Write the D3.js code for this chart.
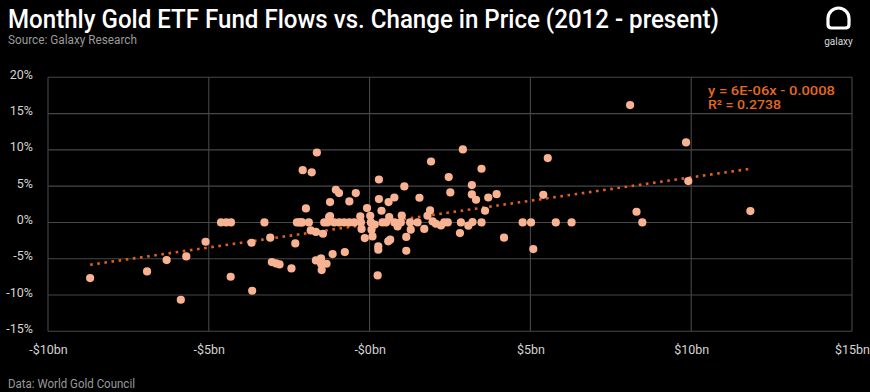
<!DOCTYPE html>
<html>
<head>
<meta charset="utf-8">
<script src="https://cdn.jsdelivr.net/npm/d3@7"></script>
<style>
  html, body { margin: 0; padding: 0; background: #000; }
  svg { display: block; }
</style>
</head>
<body>
<svg id="chart" width="870" height="392"></svg>
<script>
// ---- Data (fund flows in $bn, price change in %) ----
const flowsBn = [
  -8.69, -6.92, -6.31, -5.70, -5.87, -5.10, -4.62, -4.46, -4.31, -4.32,
  -3.67, -3.65, -3.27, -3.09, -3.04, -2.91, -2.80, -2.43, -2.31, -2.26,
  -2.12, -2.08, -1.80, -1.64, -1.98, -1.89, -1.83, -1.67, -1.45, -1.41,
  -1.31, -1.67, -1.51, -1.51, -1.34, -1.49, -1.15, -1.23, -1.23, -1.05,
  -0.95, -1.10, -0.94, -0.79, -0.63, -0.48, -0.77, -0.63, -0.43, -0.29,
  -0.27, -0.25, -0.15, -0.08, 0.02, 0.04, 0.16, 0.06, 0.09, 0.27,
  0.27, 0.25, 0.29, 0.29, 0.37, 0.40, 0.51, 0.58, 0.64, 0.61,
  0.59, 0.77, 0.77, 0.87, 0.97, 1.00, 1.08, 1.14, 1.14, 1.28,
  1.26, 1.49, 1.55, 1.70, 1.80, 1.88, 1.91, 1.96, 2.06, 2.22,
  2.32, 2.43, 2.46, 2.51, 2.81, 2.84, 2.90, 3.07, 3.20, 3.18,
  3.18, 3.31, 3.48, 3.48, 3.59, 3.69, 3.95, 4.18, 4.76, 5.02,
  5.09, 5.40, 5.54, 5.79, 6.28, 8.10, 9.84, 9.91, 8.30, 8.48,
  11.84, -2.19, -2.10, -1.26
];
const priceChangePct = [
  -7.66, -6.75, -5.18, -4.68, -10.65, -2.66, 0, 0, 0, -7.48,
  -2.80, -9.41, 0, -2.10, -5.46, -5.65, -5.79, -6.33, -2.89, 0,
  0, 7.20, 6.90, 9.64, 1.93, 0, -1.10, -1.30, -1.56, 0,
  0, -5.23, -4.96, -5.69, -5.69, -6.56, -4.36, 0.88, 2.81, 4.50,
  4.05, 0, 0, 0, 0, 0, -4.08, 2.90, 4.05, 0.83,
  0, -0.90, -2.15, 1.98, 0.92, 0, -0.30, -1.00, -1.93, -3.30,
  -3.76, -7.30, 5.92, 3.22, 1.61, 0, 0, -2.60, -2.38, 0.74,
  2.81, 3.44, 0, -0.55, 0, 0.96, 4.96, -2.00, -3.90, -1.00,
  0, 0, 3.40, -0.90, 0.92, 1.65, 8.40, 0.14, -0.18, -0.41,
  0, 0, 6.25, 4.13, -1.46, 0, 10.06, -0.45, 0.05, 5.15,
  3.86, 3.13, 7.40, 0, 1.61, 3.44, 3.90, -2.10, 0, 0,
  -3.67, 3.81, 8.87, 0, 0, 16.17, 11.02, 5.70, 1.47, 0,
  1.57, 0, 0, 0.74
];
// Linear trendline endpoints (as drawn in the reference)
const trendFlowsBn = [-8.69, 11.84];
const trendPct = [-5.83, 7.40];

const xTicks = [-10, -5, 0, 5, 10, 15];
const xTickLabels = ["-$10bn", "-$5bn", "-$0bn", "$5bn", "$10bn", "$15bn"];
const yTicks = [-15, -10, -5, 0, 5, 10, 15, 20];
const yTickLabels = ["-15%", "-10%", "-5%", "0%", "5%", "10%", "15%", "20%"];

const titleText = "Monthly Gold ETF Fund Flows vs. Change in Price (2012 - present)";
const subtitleText = "Source: Galaxy Research";
const footerText = "Data: World Gold Council";
const eqText = "y = 6E-06x - 0.0008";
const r2Text = "R² = 0.2738";

(function () {
// ---- Layout ----
const svg = d3.select("#chart");
const W = 870, H = 392;
const pL = 48, pR = 852, pT = 77.3, pB = 331.3;
const FONT = "Roboto, 'Noto Sans', sans-serif";

svg.append("rect").attr("width", W).attr("height", H).attr("fill", "#000");

const x = d3.scaleLinear().domain([-10, 15]).range([pL, pR]);
const y = d3.scaleLinear().domain([-15, 20]).range([pB, pT]);

// Grid
const grid = svg.append("g");
grid.selectAll("line.h").data(yTicks).join("line").attr("class", "h")
  .attr("x1", pL).attr("x2", pR)
  .attr("y1", d => y(d)).attr("y2", d => y(d))
  .attr("stroke", "#474747").attr("stroke-width", 1.1);
grid.selectAll("line.v").data(xTicks).join("line").attr("class", "v")
  .attr("y1", pT).attr("y2", pB)
  .attr("x1", d => x(d)).attr("x2", d => x(d))
  .attr("stroke", "#474747").attr("stroke-width", 1.1);

// Axes (labels via d3 axes, domain lines hidden)
const xAxis = d3.axisBottom(x).tickValues(xTicks)
  .tickFormat((d, i) => xTickLabels[i]).tickSize(0).tickPadding(0);
const gx = svg.append("g").attr("transform", `translate(0, 345)`).call(xAxis);
gx.select(".domain").remove();
gx.selectAll("text").attr("fill", "#d4d4d4").attr("font-family", FONT)
  .attr("font-size", 12.5).attr("dy", "0.75em");

const yAxis = d3.axisLeft(y).tickValues(yTicks)
  .tickFormat((d, i) => yTickLabels[i]).tickSize(0).tickPadding(0);
const gy = svg.append("g").attr("transform", `translate(33, -3)`).call(yAxis);
gy.select(".domain").remove();
gy.selectAll("text").attr("fill", "#d4d4d4").attr("font-family", FONT)
  .attr("font-size", 12.5);

// Trendline (dotted)
svg.append("path")
  .datum(trendFlowsBn.map((v, i) => [v, trendPct[i]]))
  .attr("d", d3.line().x(d => x(d[0])).y(d => y(d[1])))
  .attr("fill", "none").attr("stroke", "#e0601c")
  .attr("stroke-width", 2.6).attr("stroke-dasharray", "2.6,4.6");

// Points
svg.append("g").selectAll("circle")
  .data(flowsBn.map((v, i) => [v, priceChangePct[i]]))
  .join("circle")
  .attr("cx", d => x(d[0])).attr("cy", d => y(d[1]))
  .attr("r", 4.1).attr("fill", "#f9b393");

// Equation labels
svg.append("text").attr("x", 708).attr("y", 95).text(eqText)
  .attr("fill", "#e4681f").attr("font-family", FONT).attr("font-size", 13)
  .attr("font-weight", 500).attr("textLength", 127).attr("lengthAdjust", "spacingAndGlyphs");
svg.append("text").attr("x", 708).attr("y", 109).text(r2Text)
  .attr("fill", "#e4681f").attr("font-family", FONT).attr("font-size", 13)
  .attr("font-weight", 500).attr("textLength", 73).attr("lengthAdjust", "spacingAndGlyphs");

// Title / subtitle / footer
svg.append("text").attr("x", 8).attr("y", 28).text(titleText)
  .attr("fill", "#fff").attr("font-family", FONT).attr("font-size", 25)
  .attr("font-weight", 500).attr("textLength", 711).attr("lengthAdjust", "spacingAndGlyphs");
svg.append("text").attr("x", 8).attr("y", 44).text(subtitleText)
  .attr("fill", "#9a9a9a").attr("font-family", FONT).attr("font-size", 12)
  .attr("textLength", 129).attr("lengthAdjust", "spacingAndGlyphs");
svg.append("text").attr("x", 8).attr("y", 388).text(footerText)
  .attr("fill", "#9a9a9a").attr("font-family", FONT).attr("font-size", 12.5)
  .attr("textLength", 127).attr("lengthAdjust", "spacingAndGlyphs");

// Logo
svg.append("path")
  .attr("d", "M828,18.5 A10.5,10.5 0 0 1 849,18.5 L849,24.5 Q849,28 845.5,28 L831.5,28 Q828,28 828,24.5 Z")
  .attr("fill", "none").attr("stroke", "#fff").attr("stroke-width", 3.2);
svg.append("text").attr("x", 838.5).attr("y", 45).text("galaxy")
  .attr("text-anchor", "middle").attr("fill", "#d8d8d8").attr("font-family", FONT)
  .attr("font-size", 10);
})();
</script>
</body>
</html>
